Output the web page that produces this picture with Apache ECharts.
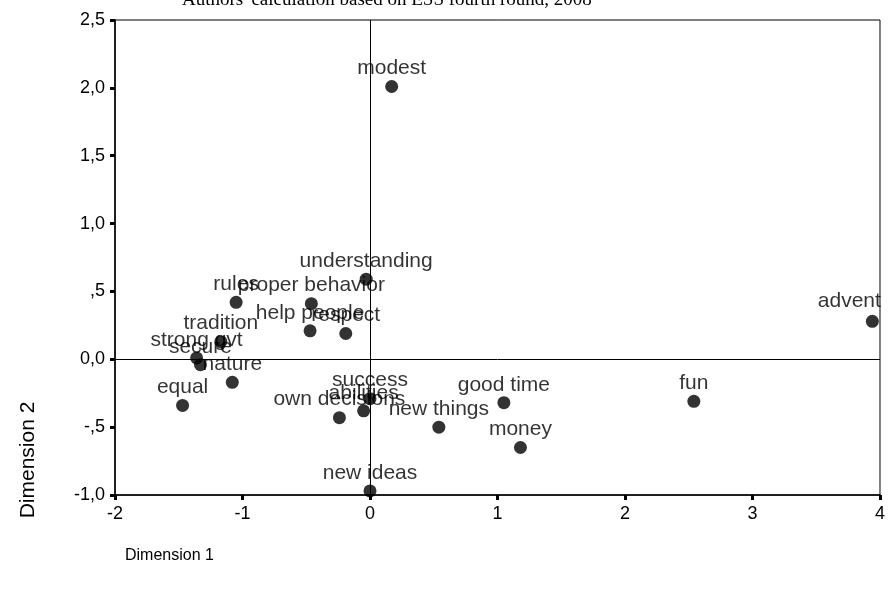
<!DOCTYPE html>
<html>
<head>
<meta charset="utf-8">
<script src="https://cdn.jsdelivr.net/npm/echarts@6/dist/echarts.min.js"></script>
<style>
html,body{margin:0;padding:0;background:#fff;}
#chart{width:888px;height:589px;}
</style>
</head>
<body>
<div id="chart"></div>
<script>
// ---- data ----
const labels = ["modest","understanding","proper behavior","rules","help people","respect","tradition","strong gvt","secure","nature","equal","success","abilities","own decisions","new things","good time","money","new ideas","fun","advent"];
const dim1 = [0.17,-0.03,-0.46,-1.05,-0.47,-0.19,-1.17,-1.36,-1.33,-1.08,-1.47,0.00,-0.05,-0.24,0.54,1.05,1.18,0.00,2.54,3.94];
const dim2 = [2.01,0.59,0.41,0.42,0.21,0.19,0.13,0.01,-0.04,-0.17,-0.34,-0.29,-0.38,-0.43,-0.50,-0.32,-0.65,-0.97,-0.31,0.28];
const xTickValues = [-2,-1,0,1,2,3,4];
const xTickLabels = ["-2","-1","0","1","2","3","4"];
const yTickValues = [-1,-0.5,0,0.5,1,1.5,2,2.5];
const yTickLabels = ["-1,0","-,5","0,0",",5","1,0","1,5","2,0","2,5"];

const FONT = '"Liberation Sans", Arial, sans-serif';
const points = labels.map((name, i) => {
  const d = { name: name, value: [dim1[i], dim2[i]] };
  // label of the right-most point is cut by the plot frame in the original
  if (name === 'advent') d.label = { position: [15, -14], align: 'right', verticalAlign: 'middle' };
  return d;
});

const chart = echarts.init(document.getElementById('chart'), null, { renderer: 'canvas' });
chart.setOption({
  backgroundColor: '#fff',
  animation: false,
  graphic: [
    { type: 'text', left: 182, top: -9,
      style: { text: "Authors' calculation based on ESS fourth round, 2008", font: '19px "Liberation Serif", "Times New Roman", serif', fill: '#000' } },
    { type: 'text', left: 125, top: 548,
      style: { text: 'Dimension 1', font: '16px ' + FONT, fill: '#000' } },
    { type: 'text', x: 28, y: 460, rotation: Math.PI / 2,
      style: { text: 'Dimension 2', font: '21px ' + FONT, fill: '#000', align: 'center', verticalAlign: 'middle' } }
  ],
  grid: { left: 115, right: 2, top: 20, bottom: 94, show: true, borderColor: '#000', borderWidth: 1, containLabel: false },
  xAxis: {
    type: 'value', min: -2, max: 4, interval: 1,
    axisLine: { show: true, onZero: false, lineStyle: { color: '#000', width: 1.5 } },
    axisTick: { show: true, length: 5, lineStyle: { color: '#000', width: 3 } },
    axisLabel: { color: '#000', fontSize: 18, fontFamily: FONT, margin: 10,
      formatter: v => { const k = xTickValues.indexOf(v); return k >= 0 ? xTickLabels[k] : ''; } },
    splitLine: { show: false }
  },
  yAxis: {
    type: 'value', min: -1, max: 2.5, interval: 0.5,
    axisLine: { show: true, onZero: false, lineStyle: { color: '#000', width: 1.5 } },
    axisTick: { show: true, length: 5, lineStyle: { color: '#000', width: 3 } },
    axisLabel: { color: '#000', fontSize: 18, fontFamily: FONT, margin: 10,
      formatter: v => { const k = yTickValues.findIndex(t => Math.abs(t - v) < 1e-9); return k >= 0 ? yTickLabels[k] : ''; } },
    splitLine: { show: false }
  },
  series: [{
    type: 'scatter',
    data: points,
    symbol: 'circle',
    symbolSize: 13,
    itemStyle: { color: '#000' },
    label: { show: true, position: 'top', distance: 1, formatter: p => p.name,
      color: '#000', fontSize: 21, fontFamily: FONT },
    labelLayout: { hideOverlap: false },
    markLine: {
      silent: true, symbol: 'none', animation: false,
      label: { show: false },
      lineStyle: { color: '#000', width: 1, type: 'solid' },
      data: [{ xAxis: 0 }, { yAxis: 0 }]
    },
    z: 3
  }]
});
</script>
</body>
</html>
